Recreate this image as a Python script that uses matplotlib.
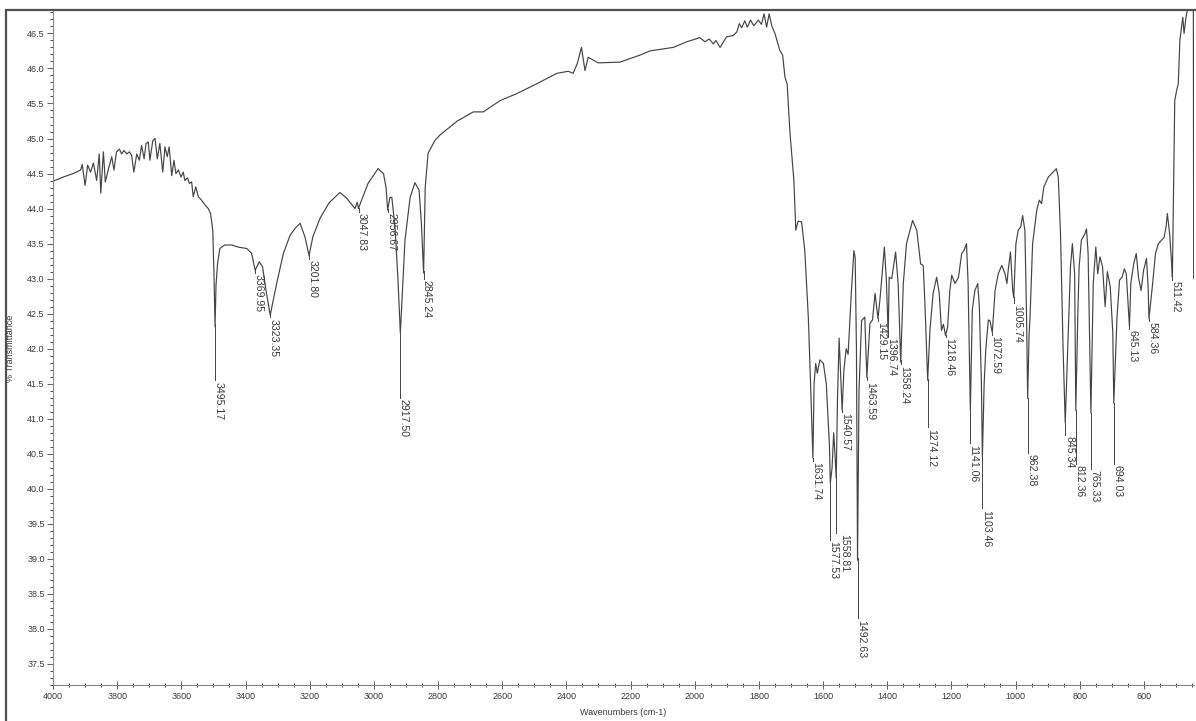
import matplotlib
matplotlib.use('Agg')
import matplotlib.pyplot as plt
import numpy as np
from matplotlib.patches import Rectangle
from matplotlib.ticker import MultipleLocator

# Спектр: волновые числа (см-1) и пропускание (%)
wavenumbers = [
    4000, 3968, 3937, 3914, 3909, 3900, 3892, 3883, 3874, 3864, 3856, 3851,
    3843, 3837, 3828, 3817, 3810, 3802, 3793, 3786, 3779, 3770, 3762, 3755,
    3748, 3739, 3731, 3724, 3716, 3710, 3703, 3698, 3689, 3682, 3675, 3667,
    3658, 3651, 3644, 3638, 3630, 3623, 3617, 3609, 3601, 3594, 3589, 3581,
    3575, 3568, 3563, 3555, 3547, 3537, 3526, 3516, 3509, 3502, 3498, 3495,
    3492, 3487, 3480, 3465, 3443, 3423, 3396, 3381, 3370, 3357, 3347, 3335,
    3323, 3303, 3282, 3261, 3245, 3230, 3215, 3202, 3190, 3168, 3140, 3106,
    3085, 3059, 3052, 3048, 3040, 3018, 2987, 2970, 2962, 2957, 2950, 2944,
    2934, 2925, 2917.5, 2910, 2903, 2887, 2872, 2859, 2852, 2845, 2840, 2831,
    2810, 2794, 2740, 2690, 2659, 2607, 2555, 2493, 2430, 2394, 2379, 2366,
    2353, 2342, 2332, 2301, 2233, 2171, 2140, 2067, 2025, 1984, 1968, 1955,
    1942, 1934, 1921, 1901, 1880, 1869, 1861, 1854, 1844, 1836, 1826, 1816,
    1802, 1792, 1784, 1776, 1768, 1760, 1750, 1735, 1726, 1719, 1712, 1703,
    1691, 1685, 1678, 1667, 1657, 1646, 1639, 1631.7, 1628, 1623, 1618, 1610,
    1599, 1590, 1580, 1577.5, 1572, 1567, 1563, 1559, 1555, 1550, 1545,
    1540.6, 1535, 1528, 1522, 1512, 1504, 1500, 1496, 1492.6, 1488, 1480,
    1470, 1463.6, 1454, 1446, 1438, 1429, 1423, 1409, 1403, 1397, 1394, 1386,
    1374, 1366, 1358, 1350, 1340, 1321, 1308, 1296, 1288, 1283, 1274, 1267,
    1257, 1246, 1238, 1231, 1225, 1218.5, 1212, 1205, 1199, 1189, 1178, 1168,
    1161, 1153, 1148, 1141, 1135, 1127, 1118, 1113, 1106.5, 1103.5, 1098,
    1093, 1085, 1080, 1072.6, 1064, 1054, 1043, 1033, 1027, 1023, 1016, 1009,
    1005.7, 999, 992, 984, 978, 971, 966, 962.4, 958, 955, 947, 934, 926, 919,
    912, 898, 883, 873, 867, 860, 852, 845.3, 836, 829, 823, 816, 812.4, 806,
    802, 795, 784, 779, 774, 765.3, 758, 750, 744, 737, 729, 721, 714, 705,
    697, 694, 684, 676, 668, 661, 655, 645.1, 641, 632, 624, 617, 609, 601,
    592, 587, 584.4, 574, 564, 555, 545, 537, 531, 527, 520, 513, 511.4, 504,
    498, 493, 488, 479, 475, 469, 460, 446, 445,
]
transmittance = [
    44.39, 44.45, 44.50, 44.55, 44.63, 44.33, 44.62, 44.52, 44.65, 44.40, 44.78, 44.22,
    44.81, 44.38, 44.55, 44.74, 44.55, 44.81, 44.85, 44.78, 44.83, 44.78, 44.81, 44.76,
    44.52, 44.78, 44.69, 44.90, 44.71, 44.93, 44.95, 44.69, 44.97, 45.00, 44.71, 44.93,
    44.52, 44.88, 44.74, 44.88, 44.47, 44.69, 44.50, 44.55, 44.45, 44.52, 44.40, 44.44,
    44.36, 44.38, 44.17, 44.31, 44.17, 44.12, 44.05, 44.00, 43.93, 43.69, 43.00, 42.31,
    42.90, 43.22, 43.43, 43.48, 43.48, 43.45, 43.43, 43.36, 43.12, 43.24, 43.17, 42.80,
    42.48, 42.93, 43.36, 43.62, 43.72, 43.79, 43.60, 43.33, 43.60, 43.86, 44.08, 44.23,
    44.15, 44.00, 44.09, 44.00, 44.10, 44.36, 44.57, 44.50, 44.30, 43.98, 44.16, 44.16,
    43.73, 43.00, 42.22, 42.90, 43.55, 44.16, 44.37, 44.26, 43.80, 43.08, 44.30, 44.79,
    44.97, 45.05, 45.25, 45.38, 45.38, 45.54, 45.64, 45.78, 45.93, 45.96, 45.93, 46.07,
    46.30, 45.97, 46.16, 46.08, 46.09, 46.19, 46.25, 46.30, 46.38, 46.44, 46.38, 46.42,
    46.35, 46.40, 46.30, 46.45, 46.47, 46.52, 46.64, 46.58, 46.68, 46.59, 46.69, 46.61,
    46.69, 46.63, 46.78, 46.59, 46.78, 46.61, 46.50, 46.26, 46.19, 45.88, 45.78, 45.07,
    44.40, 43.69, 43.82, 43.81, 43.40, 42.45, 41.50, 40.44, 41.50, 41.79, 41.65, 41.84,
    41.79, 41.50, 40.60, 40.08, 40.30, 40.80, 40.50, 40.15, 41.30, 42.15, 41.60,
    41.12, 41.70, 42.00, 41.92, 42.80, 43.40, 43.30, 42.00, 38.98, 41.40, 42.40,
    42.45, 41.59, 42.36, 42.41, 42.79, 42.43, 42.69, 43.45, 43.00, 42.20, 43.02, 43.00,
    43.38, 42.93, 41.81, 42.93, 43.50, 43.83, 43.69, 43.21, 43.19, 42.69, 41.55, 42.26,
    42.79, 43.02, 42.79, 42.26, 42.35, 42.19, 42.30, 42.83, 43.05, 42.93, 43.02, 43.36,
    43.40, 43.50, 42.93, 41.12, 42.55, 42.83, 42.93, 42.60, 41.50, 40.45, 41.50,
    41.98, 42.41, 42.40, 42.23, 42.83, 43.07, 43.19, 43.07, 42.93, 43.12, 43.38, 42.83,
    42.73, 43.50, 43.69, 43.74, 43.90, 43.69, 42.50, 41.29, 42.20, 42.45, 43.50, 43.98, 44.12, 44.07,
    44.31, 44.45, 44.52, 44.57, 44.45, 43.64, 42.00, 40.94, 42.22, 43.17, 43.50, 43.07, 41.12, 42.50,
    43.17, 43.55, 43.64, 43.71, 43.36, 41.08, 42.93, 43.45, 43.07, 43.31, 43.17, 42.60, 43.10, 42.88,
    42.22, 41.22, 42.45, 42.98, 43.02, 43.14, 43.07, 42.31, 42.93, 43.21, 43.36, 43.02, 42.83, 43.12,
    43.29, 42.88, 42.43, 42.88, 43.36, 43.50, 43.55, 43.59, 43.74, 43.93, 43.64, 43.17, 43.02, 45.54,
    45.69, 45.78, 46.40, 46.73, 46.50, 46.73, 46.95, 46.95, 43.00,
]

# Подписи пиков и уровень, где начинается подпись
peak_labels = [
    '3495.17', '3369.95', '3323.35', '3201.80', '3047.83', '2956.67', '2917.50',
    '2845.24', '1631.74', '1577.53', '1558.81', '1540.57', '1492.63', '1463.59',
    '1429.15', '1396.74', '1358.24', '1274.12', '1218.46', '1141.06', '1103.46',
    '1072.59', '1005.74', '962.38', '845.34', '812.36', '765.33', '694.03',
    '645.13', '584.36', '511.42',
]
peak_label_level = [
    41.55, 43.08, 42.45, 43.28, 43.95, 43.95, 41.30, 43.00, 40.40, 39.27, 39.37,
    41.10, 38.15, 41.55, 42.40, 42.17, 41.78, 40.88, 42.17, 40.65, 39.72, 42.20,
    42.65, 40.51, 40.77, 40.36, 40.29, 40.36, 42.28, 42.40, 42.98,
]
# сдвиг подписи вбок (пункты), где подписи теснятся
peak_label_shift = {'1577.53': -0.5, '1558.81': 3.5, '845.34': 0.5}

line_color = '#444444'
text_color = '#3a3a3a'
plt.rcParams['font.family'] = ['Liberation Sans', 'DejaVu Sans']

fig = plt.figure(figsize=(11.96, 7.21), dpi=100)
ax = fig.add_axes([53 / 1196, 1 - 685 / 721, 1141 / 1196, 674 / 721])

ax.plot(wavenumbers, transmittance, color=line_color, lw=0.85)

# Линии-выноски от кривой к подписям
wn_arr = np.array(wavenumbers, dtype=float)
t_arr = np.array(transmittance, dtype=float)
for lab, level in zip(peak_labels, peak_label_level):
    wn = float(lab)
    t_curve = np.interp(wn, wn_arr[::-1], t_arr[::-1])
    if level < t_curve:
        ax.plot([wn, wn], [level, t_curve], color=line_color, lw=0.7)
    dx = 2.4 + peak_label_shift.get(lab, 0)
    ax.annotate(lab, xy=(wn, level), xytext=(dx, -1), textcoords='offset points',
                rotation=270, ha='center', va='top', fontsize=7.6, color=text_color)

ax.set_xlim(4000, 444)
ax.set_ylim(37.2, 46.82)
ax.xaxis.set_major_locator(MultipleLocator(200))
ax.xaxis.set_minor_locator(MultipleLocator(50))
ax.yaxis.set_major_locator(MultipleLocator(0.5))
ax.yaxis.set_minor_locator(MultipleLocator(0.1))
ax.yaxis.set_major_formatter(plt.FormatStrFormatter('%.1f'))
ax.tick_params(axis='both', labelsize=6.5, colors=line_color, labelcolor=text_color,
               width=0.6)
ax.tick_params(axis='x', which='major', direction='inout', length=6, pad=2)
ax.tick_params(axis='x', which='minor', direction='inout', length=3, width=0.5)
ax.tick_params(axis='y', which='major', direction='out', length=4, pad=2)
ax.tick_params(axis='y', which='minor', direction='out', length=2, width=0.5)

for side in ['top', 'right']:
    ax.spines[side].set_visible(False)
for side in ['left', 'bottom']:
    ax.spines[side].set_color('#888888')
    ax.spines[side].set_linewidth(0.8)

ax.set_xlabel('Wavenumbers (cm-1)', fontsize=6.5, color=text_color, labelpad=5)
ax.set_ylabel('% Transmittance', fontsize=6.5, color=text_color)
ax.yaxis.set_label_coords(-(53 - 15) / 1141, 0.5)

# Рамка вокруг картинки
fig.patches.append(Rectangle((6 / 1196, -0.05), 1.1, 1 - 10.5 / 721 + 0.05,
                             transform=fig.transFigure, fill=False,
                             edgecolor='#505050', lw=1.6, clip_on=False))

fig.savefig('out.png', dpi=100)
